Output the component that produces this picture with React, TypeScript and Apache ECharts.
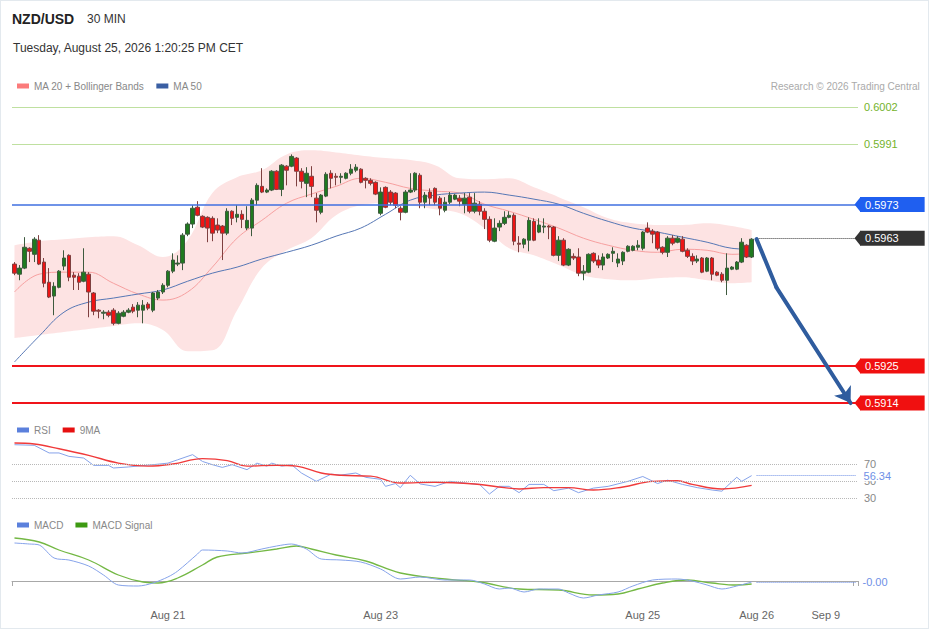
import React, { useEffect, useRef } from "react";
import * as echarts from "echarts";

const FONT = "Arial, 'Liberation Sans', Helvetica, sans-serif";

// ---- x axis ----
const SLOT_COUNT = 171;
const tickIndex = [31, 74, 127, 150, 164];
const tickLabels = ["Aug 21", "Aug 23", "Aug 25", "Aug 26", "Sep 9"];

// ---- candles: [open, close, low, high] ----
const candles = [
  [0.59553, 0.59526, 0.5952, 0.59559], [0.59523, 0.59541, 0.59505, 0.5955], [0.59541, 0.59603, 0.59538, 0.59633],
  [0.596, 0.59591, 0.59559, 0.59603], [0.59582, 0.59627, 0.59559, 0.59633], [0.59624, 0.59553, 0.5955, 0.59639],
  [0.59559, 0.59496, 0.59484, 0.59571], [0.59499, 0.59455, 0.59452, 0.59541], [0.59458, 0.59487, 0.59401, 0.59499],
  [0.59484, 0.59532, 0.59481, 0.59535], [0.59547, 0.59571, 0.59535, 0.59594], [0.59579, 0.59514, 0.59502, 0.59582],
  [0.5952, 0.59514, 0.59476, 0.59529], [0.59517, 0.59499, 0.59476, 0.59526], [0.59502, 0.59529, 0.59499, 0.596],
  [0.59523, 0.5947, 0.59395, 0.59529], [0.59467, 0.59413, 0.59401, 0.5947], [0.59416, 0.59413, 0.59392, 0.59419],
  [0.59407, 0.5941, 0.59389, 0.59416], [0.5941, 0.59401, 0.59395, 0.59416], [0.59416, 0.59377, 0.59371, 0.59422],
  [0.59377, 0.59407, 0.59374, 0.59413], [0.59398, 0.5941, 0.59395, 0.59416], [0.5941, 0.59416, 0.59407, 0.59422],
  [0.59425, 0.59413, 0.59407, 0.59434], [0.59416, 0.59431, 0.59395, 0.5944], [0.59416, 0.59431, 0.59377, 0.59446],
  [0.59434, 0.59422, 0.59416, 0.5944], [0.59416, 0.59467, 0.5941, 0.5947], [0.59452, 0.5947, 0.59446, 0.59476],
  [0.5947, 0.5949, 0.59464, 0.59496], [0.5949, 0.59532, 0.59484, 0.59535], [0.59532, 0.59565, 0.59526, 0.59585],
  [0.59553, 0.59556, 0.59547, 0.59579], [0.59556, 0.59639, 0.59535, 0.59645], [0.59642, 0.59672, 0.59636, 0.59677],
  [0.59672, 0.59719, 0.5966, 0.59728], [0.59722, 0.59698, 0.59695, 0.5974], [0.59695, 0.59663, 0.5966, 0.59698],
  [0.59692, 0.5966, 0.59618, 0.59695], [0.59689, 0.59645, 0.59621, 0.59695], [0.59669, 0.59654, 0.59645, 0.59689],
  [0.59666, 0.59645, 0.59565, 0.59669], [0.59645, 0.5971, 0.59639, 0.59719], [0.5971, 0.59689, 0.59669, 0.59713],
  [0.59692, 0.59701, 0.59677, 0.59728], [0.59701, 0.59686, 0.5966, 0.59713], [0.5966, 0.59683, 0.59654, 0.59725],
  [0.5966, 0.59743, 0.59636, 0.59749], [0.59743, 0.59787, 0.59728, 0.59793], [0.59784, 0.59767, 0.59764, 0.59838],
  [0.59767, 0.59773, 0.59764, 0.59778], [0.59773, 0.59829, 0.5977, 0.59832], [0.59829, 0.59775, 0.59773, 0.59832],
  [0.59775, 0.59847, 0.59755, 0.5985], [0.59844, 0.59832, 0.59787, 0.59847], [0.59844, 0.59873, 0.59841, 0.59879],
  [0.59868, 0.59829, 0.59784, 0.59871], [0.59829, 0.59799, 0.59778, 0.59838], [0.59793, 0.59823, 0.59752, 0.59841],
  [0.59814, 0.59784, 0.59752, 0.59844], [0.59749, 0.59713, 0.59677, 0.59764], [0.59707, 0.59758, 0.59701, 0.59761],
  [0.59755, 0.5982, 0.59752, 0.59826], [0.59823, 0.59808, 0.59778, 0.59832], [0.59814, 0.59811, 0.59787, 0.59823],
  [0.59811, 0.59814, 0.59793, 0.59823], [0.59808, 0.59823, 0.59805, 0.59826], [0.59823, 0.59835, 0.59817, 0.5985],
  [0.59832, 0.59841, 0.59826, 0.5985], [0.59835, 0.59796, 0.59793, 0.59838], [0.59808, 0.59802, 0.59778, 0.59811],
  [0.59802, 0.59793, 0.59787, 0.59808], [0.59796, 0.59761, 0.59758, 0.59799], [0.59704, 0.59767, 0.59698, 0.59781],
  [0.59781, 0.59722, 0.59719, 0.59784], [0.59767, 0.59737, 0.59728, 0.59773], [0.59764, 0.59728, 0.59719, 0.59767],
  [0.59719, 0.59707, 0.59683, 0.59725], [0.59707, 0.59767, 0.59704, 0.59773], [0.59767, 0.59773, 0.59764, 0.59823],
  [0.59773, 0.59823, 0.59767, 0.59826], [0.59817, 0.59737, 0.59719, 0.59823], [0.59737, 0.59758, 0.59719, 0.59767],
  [0.59767, 0.59749, 0.59728, 0.59778], [0.59778, 0.59737, 0.59728, 0.59781], [0.59749, 0.59719, 0.59698, 0.59755],
  [0.59713, 0.59737, 0.59707, 0.59752], [0.59737, 0.59758, 0.59731, 0.59767], [0.59746, 0.59758, 0.59743, 0.59761],
  [0.59749, 0.5974, 0.59725, 0.59758], [0.59731, 0.59749, 0.59704, 0.59764], [0.59752, 0.5971, 0.59704, 0.59764],
  [0.5971, 0.59734, 0.59704, 0.59764], [0.59731, 0.5971, 0.59698, 0.5974], [0.5971, 0.59686, 0.59657, 0.59719],
  [0.59686, 0.59624, 0.59618, 0.59695], [0.59621, 0.5966, 0.59618, 0.59689], [0.59663, 0.59674, 0.59651, 0.59683],
  [0.59674, 0.59692, 0.59669, 0.5971], [0.59692, 0.59698, 0.59689, 0.5971], [0.59698, 0.59621, 0.59609, 0.59704],
  [0.59615, 0.59612, 0.59588, 0.59636], [0.59612, 0.59627, 0.596, 0.5963], [0.59624, 0.59683, 0.59591, 0.59692],
  [0.5968, 0.59624, 0.59621, 0.59689], [0.59648, 0.59669, 0.59645, 0.59689], [0.59663, 0.59666, 0.59645, 0.59689],
  [0.59666, 0.59663, 0.59627, 0.59669], [0.59663, 0.59579, 0.59576, 0.59666], [0.59579, 0.59624, 0.59562, 0.59636],
  [0.59624, 0.5955, 0.59547, 0.5963], [0.5955, 0.59597, 0.59547, 0.596], [0.59576, 0.59571, 0.59565, 0.59585],
  [0.59574, 0.59526, 0.59517, 0.596], [0.59526, 0.59532, 0.59505, 0.5955], [0.59529, 0.59582, 0.59526, 0.59585],
  [0.59585, 0.59562, 0.59556, 0.59588], [0.59565, 0.5955, 0.59541, 0.59579], [0.5955, 0.59574, 0.59535, 0.59585],
  [0.59571, 0.59582, 0.59568, 0.59585], [0.59585, 0.59591, 0.59559, 0.59603], [0.59556, 0.59568, 0.59544, 0.59585],
  [0.59562, 0.59588, 0.5955, 0.59591], [0.59591, 0.59606, 0.59588, 0.59609], [0.59594, 0.59606, 0.59591, 0.59609],
  [0.59603, 0.59609, 0.59594, 0.59624], [0.596, 0.59648, 0.59594, 0.59651], [0.5966, 0.59648, 0.59645, 0.59677],
  [0.59651, 0.59642, 0.59615, 0.59657], [0.59648, 0.596, 0.59594, 0.59651], [0.59603, 0.59588, 0.59582, 0.59606],
  [0.59588, 0.5963, 0.59574, 0.59636], [0.5963, 0.59615, 0.59609, 0.59639], [0.59618, 0.5963, 0.59615, 0.59636],
  [0.59627, 0.59591, 0.59588, 0.59636], [0.59594, 0.59576, 0.59571, 0.596], [0.59576, 0.59562, 0.5955, 0.59585],
  [0.59562, 0.59568, 0.59556, 0.59579], [0.59571, 0.59529, 0.59526, 0.59574], [0.59532, 0.59571, 0.59529, 0.59574],
  [0.59571, 0.59523, 0.59505, 0.59574], [0.59529, 0.5952, 0.59517, 0.59532], [0.59523, 0.59505, 0.59499, 0.59529],
  [0.59505, 0.59541, 0.59461, 0.59585], [0.59538, 0.59544, 0.59535, 0.59547], [0.59538, 0.59559, 0.59535, 0.59562],
  [0.59559, 0.59618, 0.59556, 0.5963], [0.59609, 0.59574, 0.59571, 0.59612], [0.59574, 0.59627, 0.59571, 0.5963],
];

// ---- MA / Bollinger samples (candle index) ----
const sampleIdx = [0, 5, 10, 15, 20, 25, 30, 35, 40, 45, 50, 55, 60, 65, 70, 75, 80, 85, 90, 95, 100, 105, 110, 115, 120, 125, 130, 135, 140, 145, 149];
const bbUpper = [0.59609, 0.59621, 0.59627, 0.59633, 0.59636, 0.59609, 0.59574, 0.59624, 0.59764, 0.59811, 0.59832, 0.59879, 0.59891, 0.59885, 0.59876, 0.59868, 0.59862, 0.59847, 0.59808, 0.59805, 0.59808, 0.59781, 0.59752, 0.59722, 0.59689, 0.59674, 0.59669, 0.59669, 0.59674, 0.59666, 0.59654];
const bbLower = [0.59333, 0.59342, 0.59351, 0.5936, 0.59369, 0.59377, 0.59357, 0.59294, 0.59297, 0.59416, 0.59541, 0.59594, 0.5963, 0.59698, 0.59728, 0.59734, 0.59728, 0.59716, 0.59704, 0.5966, 0.596, 0.59579, 0.5955, 0.5952, 0.59508, 0.59505, 0.59511, 0.59514, 0.59505, 0.59496, 0.59499];
const ma20 = [0.5947, 0.59523, 0.59529, 0.59529, 0.59496, 0.59464, 0.59446, 0.5947, 0.59544, 0.5963, 0.59683, 0.59734, 0.59761, 0.59784, 0.59808, 0.59796, 0.59778, 0.5977, 0.59764, 0.59731, 0.5971, 0.59686, 0.5966, 0.5963, 0.59609, 0.59594, 0.59588, 0.59597, 0.59594, 0.59582, 0.59585];
const ma50 = [0.59262, 0.59339, 0.5941, 0.5944, 0.59452, 0.59464, 0.59476, 0.59502, 0.59526, 0.59544, 0.59568, 0.59588, 0.59609, 0.59636, 0.5966, 0.59701, 0.59743, 0.59758, 0.59764, 0.59767, 0.59758, 0.59746, 0.59731, 0.59704, 0.5968, 0.5966, 0.59648, 0.59633, 0.59618, 0.596, 0.59597];

// ---- levels ----
const resistanceLevels = [0.6002, 0.5991];
const pivotLevel = 0.5973;
const lastPrice = 0.5963;
const supportLevels = [0.5925, 0.5914];
const forecastIdx = [150, 154, 169];
const forecastVal = [0.59627, 0.59484, 0.5914];

// ---- RSI ----
const rsiIdx = [0, 4, 7, 9, 11, 14, 16, 19, 20, 23, 28, 31, 33, 36, 38, 40, 42, 44, 47, 49, 51, 52, 54, 56, 58, 61, 64, 66, 69, 71, 74, 75, 77, 78, 80, 82, 85, 88, 92, 94, 96, 98, 100, 102, 104, 107, 109, 112, 114, 117, 120, 124, 127, 130, 132, 135, 138, 141, 143, 144, 146, 147, 149];
const rsiVal = [92.7, 92, 83, 83, 79, 77, 68.4, 68.4, 65.3, 66.5, 69.2, 71, 75, 81, 73, 69.2, 66, 69.2, 63.3, 71, 67.5, 71, 67.5, 69.2, 59.4, 49.6, 58, 57, 59.4, 54.3, 52, 43.7, 47, 42.2, 56.7, 46.5, 43.7, 49.6, 47, 46, 34.7, 43.7, 43.7, 36.3, 46, 46, 38.6, 41.6, 36.3, 41.6, 43.7, 49.6, 55.3, 47, 51, 46, 42.2, 39.4, 38, 43.7, 54.4, 49.6, 56.34];
const rsiMaIdx = [0, 4, 9, 15, 21, 27, 32, 38, 43, 47, 53, 57, 62, 66, 72, 78, 85, 93, 99, 102, 107, 112, 117, 123, 129, 134, 137, 143, 149];
const rsiMaVal = [94.7, 93.5, 88, 80.2, 71, 67.5, 70, 76.3, 74, 67.5, 68.6, 67.5, 59.4, 56.7, 55.7, 47.6, 48.6, 46.5, 42.2, 40.6, 42.2, 42.2, 39.4, 43, 49.6, 50.3, 46, 40.6, 44.8];
const rsiLevels = [70, 50, 30];
const rsiLast = 56.34;

// ---- MACD ----
const macdIdx = [0, 3, 5, 8, 11, 15, 18, 21, 25, 28, 31, 33, 37, 38, 43, 46, 50, 53, 56, 59, 62, 66, 70, 74, 78, 82, 87, 92, 95, 98, 100, 103, 106, 110, 112, 115, 118, 122, 125, 129, 134, 137, 140, 143, 146, 149];
const macdVal = [0.00038, 0.00037, 0.00036, 0.00023, 0.00021, 0.00015, 0.00006, -0.00004, -0.00005, -0.00002, 0.00004, 0.0001, 0.00027, 0.00031, 0.0003, 0.00028, 0.00032, 0.00035, 0.00037, 0.00032, 0.00022, 0.00021, 0.00019, 0.00012, 0.00002, 0.00004, 0.00001, 0.00001, -0.00003, -0.00008, -0.00007, -0.00011, -0.00008, -0.00008, -0.00012, -0.00017, -0.00014, -0.00011, -0.00005, 0.00001, 0.00002, 0, -0.00004, -0.00008, -0.00005, -0.00001];
const signalIdx = [0, 5, 9, 15, 21, 26, 29, 33, 38, 41, 47, 53, 57, 60, 65, 71, 78, 87, 94, 102, 110, 117, 122, 126, 131, 136, 141, 146, 149];
const signalVal = [0.00043, 0.00039, 0.00031, 0.00021, 0.00006, -0.00001, -0.00002, 0.00003, 0.00016, 0.00024, 0.00028, 0.00032, 0.00035, 0.00032, 0.00026, 0.0002, 0.00008, 0.00002, -0.00001, -0.00008, -0.00009, -0.00014, -0.00013, -0.00008, -0.00002, 0.00001, -0.00002, -0.00004, -0.00003];
const macdLast = -0.00001;

const pairs = (idx: number[], vals: number[]) => idx.map((i, k) => [i, vals[k]]);

function buildOption() {
  const cats = Array.from({ length: SLOT_COUNT }, (_, i) => String(i));
  const lastSlot = SLOT_COUNT - 1;
  const arrowSym = "path://M0,5L6,0L6,10Z";
  const boxLabel = (text: string, bg: string, dist: number) => ({
    show: true,
    position: "end",
    distance: dist,
    formatter: text,
    color: "#fff",
    backgroundColor: bg,
    fontSize: 11,
    fontFamily: FONT,
    lineHeight: 13,
    padding: [1, 26, 1, 5],
  });
  const pointer = (v: number, color: string) => ({
    coord: [lastSlot, v],
    symbol: arrowSym,
    symbolSize: [6, 15],
    symbolKeepAspect: false,
    symbolOffset: [2, 0],
    itemStyle: { color },
    label: { show: false },
  });
  const gridBase = { left: 12, right: 71 };
  const hiddenX = (gi: number) => ({
    type: "category",
    gridIndex: gi,
    data: cats,
    boundaryGap: true,
    show: false,
  });
  const legendText = { color: "#888", fontSize: 10, fontFamily: FONT };

  return {
    animation: false,
    backgroundColor: "transparent",
    textStyle: { fontFamily: FONT },
    grid: [
      { ...gridBase, top: 93.5, height: 323 },
      { ...gridBase, top: 438.5, height: 68 },
      { ...gridBase, top: 530, height: 70 },
    ],
    xAxis: [
      hiddenX(0),
      hiddenX(1),
      {
        type: "category",
        gridIndex: 2,
        data: cats,
        boundaryGap: true,
        axisLine: { show: true, lineStyle: { color: "#a8a8a8", width: 1 } },
        axisTick: {
          show: true,
          length: 5,
          lineStyle: { color: "#a8a8a8" },
          interval: (i: number) => i === 0 || i >= lastSlot,
        },
        axisLabel: {
          show: true,
          interval: (i: number) => tickIndex.includes(i),
          formatter: (_v: string, i: number) => {
            const k = tickIndex.indexOf(i);
            return k >= 0 ? tickLabels[k] : "";
          },
          color: "#666",
          fontSize: 11,
          fontFamily: FONT,
          margin: 9,
        },
        splitLine: { show: false },
      },
    ],
    yAxis: [
      { type: "value", gridIndex: 0, min: 0.591, max: 0.6006, show: false, splitLine: { show: false } },
      { type: "value", gridIndex: 1, min: 20, max: 100, show: false, splitLine: { show: false } },
      { type: "value", gridIndex: 2, min: -0.00019, max: 0.00051, show: false, splitLine: { show: false } },
    ],
    legend: [
      {
        left: 12, top: 76, icon: "rect", itemWidth: 12, itemHeight: 5, itemGap: 12, selectedMode: false,
        data: ["MA 20 + Bollinger Bands", "MA 50"], textStyle: legendText,
      },
      {
        left: 12, top: 420, icon: "rect", itemWidth: 12, itemHeight: 5, itemGap: 12, selectedMode: false,
        data: ["RSI", "9MA"], textStyle: legendText,
      },
      {
        left: 12, top: 515, icon: "rect", itemWidth: 12, itemHeight: 5, itemGap: 12, selectedMode: false,
        data: ["MACD", "MACD Signal"], textStyle: legendText,
      },
    ],
    graphic: [
      { type: "text", left: 12, top: 12, style: { text: "NZD/USD", font: `bold 14px ${FONT}`, fill: "#222" } },
      { type: "text", left: 87, top: 13, style: { text: "30 MIN", font: `12px ${FONT}`, fill: "#333" } },
      { type: "text", left: 13, top: 42, style: { text: "Tuesday, August 25, 2026 1:20:25 PM CET", font: `12px ${FONT}`, fill: "#333" } },
      { type: "text", right: 9, top: 81, style: { text: "Research © 2026 Trading Central", font: `10px ${FONT}`, fill: "#aaa" } },
    ],
    series: [
      {
        name: "bbLower", type: "line", xAxisIndex: 0, yAxisIndex: 0, stack: "bb", smooth: 0.4,
        symbol: "none", silent: true, z: 1,
        lineStyle: { opacity: 0 },
        data: pairs(sampleIdx, bbLower),
      },
      {
        name: "bbRange", type: "line", xAxisIndex: 0, yAxisIndex: 0, stack: "bb", smooth: 0.4,
        symbol: "none", silent: true, z: 1,
        lineStyle: { opacity: 0 },
        areaStyle: { color: "#fde3e3", opacity: 1 },
        data: sampleIdx.map((i, k) => [i, bbUpper[k] - bbLower[k]]),
      },
      {
        name: "MA 20 + Bollinger Bands", type: "line", xAxisIndex: 0, yAxisIndex: 0, smooth: 0.4,
        symbol: "none", silent: true, z: 2,
        itemStyle: { color: "#fb7b7b" },
        lineStyle: { color: "#f7a0a0", width: 1 },
        data: pairs(sampleIdx, ma20),
      },
      {
        name: "MA 50", type: "line", xAxisIndex: 0, yAxisIndex: 0, smooth: 0.4,
        symbol: "none", silent: true, z: 2,
        itemStyle: { color: "#3a5fa3" },
        lineStyle: { color: "#5677b5", width: 1 },
        data: pairs(sampleIdx, ma50),
        markLine: {
          silent: true, symbol: ["none", "none"], animation: false, z: 4, precision: 6,
          data: [
            [
              {
                coord: [150, lastPrice],
                lineStyle: { color: "#333", width: 1, type: "dotted" },
                label: boxLabel(lastPrice.toFixed(4), "#333333", 4.5),
              },
              { coord: [lastSlot, lastPrice] },
            ],
          ],
        },
      },
      {
        name: "NZD/USD", type: "candlestick", xAxisIndex: 0, yAxisIndex: 0, z: 3, silent: true,
        barWidth: 4,
        itemStyle: {
          color: "#1f7a1f", color0: "#ee1414",
          borderColor: "#3e5a3e", borderColor0: "#7e4040", borderWidth: 1,
        },
        data: candles,
      },
      {
        name: "levels", type: "line", xAxisIndex: 0, yAxisIndex: 0, symbol: "none", silent: true, z: 4,
        lineStyle: { opacity: 0 },
        data: [[lastSlot, lastPrice]],
        markLine: {
          silent: true, symbol: ["none", "none"], animation: false, precision: 6,
          data: [
            ...resistanceLevels.map((v) => ({
              yAxis: v,
              lineStyle: { color: "#bfe0a0", width: 1, type: "solid" },
              label: { show: true, position: "end", distance: 6, formatter: v.toFixed(4), color: "#74b32b", fontSize: 11, fontFamily: FONT },
            })),
            {
              yAxis: pivotLevel,
              lineStyle: { color: "#3f6fe0", width: 1.5, type: "solid" },
              label: boxLabel(pivotLevel.toFixed(4), "#1f5ff0", 2),
            },
            ...supportLevels.map((v) => ({
              yAxis: v,
              lineStyle: { color: "#f0141a", width: 2, type: "solid" },
              label: boxLabel(v.toFixed(4), "#f01010", 2),
            })),
          ],
        },
        markPoint: {
          silent: true, animation: false,
          data: [
            pointer(pivotLevel, "#1f5ff0"),
            pointer(lastPrice, "#333333"),
            ...supportLevels.map((v) => pointer(v, "#f01010")),
          ],
        },
      },
      {
        name: "forecast1", type: "lines", coordinateSystem: "cartesian2d", xAxisIndex: 0, yAxisIndex: 0,
        z: 6, silent: true, symbol: ["none", "none"],
        lineStyle: { color: "#2f5c9e", width: 4, opacity: 1, cap: "round" },
        data: [{ coords: [[forecastIdx[0], forecastVal[0]], [forecastIdx[1], forecastVal[1]]] }],
      },
      {
        name: "forecast2", type: "lines", coordinateSystem: "cartesian2d", xAxisIndex: 0, yAxisIndex: 0,
        z: 6, silent: true, symbol: ["none", "arrow"], symbolSize: [13, 15],
        lineStyle: { color: "#2f5c9e", width: 4, opacity: 1, cap: "round" },
        data: [{ coords: [[forecastIdx[1], forecastVal[1]], [forecastIdx[2], forecastVal[2]]] }],
      },
      {
        name: "RSI", type: "line", xAxisIndex: 1, yAxisIndex: 1, symbol: "none", silent: true, z: 2,
        itemStyle: { color: "#5b80dc" },
        lineStyle: { color: "#86a3ea", width: 1 },
        data: pairs(rsiIdx, rsiVal),
        markLine: {
          silent: true, symbol: ["none", "none"], animation: false,
          data: rsiLevels.map((v) => ({
            yAxis: v,
            lineStyle: { color: "#b8b8b8", width: 1, type: "dotted" },
            label: { show: true, position: "end", distance: 6, formatter: String(v), color: "#888", fontSize: 11, fontFamily: FONT },
          })),
        },
      },
      {
        name: "9MA", type: "line", xAxisIndex: 1, yAxisIndex: 1, symbol: "none", silent: true, smooth: 0.4, z: 3,
        itemStyle: { color: "#e61010" },
        lineStyle: { color: "#f03a3a", width: 1.4 },
        data: pairs(rsiMaIdx, rsiMaVal),
        markLine: {
          silent: true, symbol: ["none", "none"], animation: false, z: 10,
          data: [
            [
              {
                coord: [150, rsiLast],
                lineStyle: { color: "#6f90e6", width: 1, type: "dotted" },
                label: {
                  show: true, position: "end", distance: 7, formatter: rsiLast.toFixed(2),
                  color: "#6f90e6", fontSize: 11, fontFamily: FONT, backgroundColor: "#fff", padding: [0, 1, 0, 1],
                },
              },
              { coord: [lastSlot, rsiLast] },
            ],
          ],
        },
      },
      {
        name: "MACD", type: "line", xAxisIndex: 2, yAxisIndex: 2, symbol: "none", silent: true, smooth: 0.3, z: 3,
        itemStyle: { color: "#5b80dc" },
        lineStyle: { color: "#86a3ea", width: 1 },
        data: pairs(macdIdx, macdVal),
        markLine: {
          silent: true, symbol: ["none", "none"], animation: false, precision: 6,
          data: [
            [
              {
                coord: [150, macdLast],
                lineStyle: { color: "#6f90e6", width: 1, type: "dotted" },
                label: { show: true, position: "end", distance: 7, formatter: macdLast.toFixed(2), color: "#6f90e6", fontSize: 11, fontFamily: FONT },
              },
              { coord: [lastSlot, macdLast] },
            ],
          ],
        },
      },
      {
        name: "MACD Signal", type: "line", xAxisIndex: 2, yAxisIndex: 2, symbol: "none", silent: true, smooth: 0.4, z: 2,
        itemStyle: { color: "#3d9a12" },
        lineStyle: { color: "#74b845", width: 1.3 },
        data: pairs(signalIdx, signalVal),
      },
    ],
  };
}

export default function App() {
  const ref = useRef<HTMLDivElement | null>(null);
  useEffect(() => {
    document.body.style.margin = "0";
    if (!ref.current) return;
    const chart = echarts.init(ref.current, undefined, { renderer: "svg" });
    chart.setOption(buildOption() as any);
    return () => chart.dispose();
  }, []);
  return (
    <div
      style={{
        position: "fixed", left: 0, top: 0, width: 929, height: 629,
        boxSizing: "border-box", border: "1px solid #e3e9ee", background: "#fff", overflow: "hidden",
      }}
    >
      <div ref={ref} style={{ position: "absolute", left: -1, top: -1, width: 929, height: 629 }} />
    </div>
  );
}
